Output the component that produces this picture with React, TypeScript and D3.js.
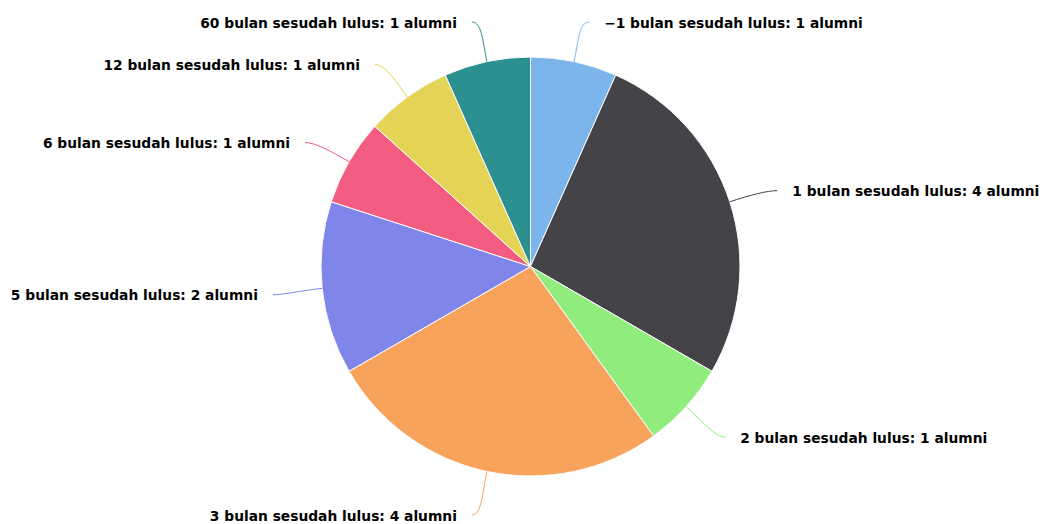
import React from "react";
import * as d3 from "d3";

const categories = [
  "−1 bulan sesudah lulus",
  "1 bulan sesudah lulus",
  "2 bulan sesudah lulus",
  "3 bulan sesudah lulus",
  "5 bulan sesudah lulus",
  "6 bulan sesudah lulus",
  "12 bulan sesudah lulus",
  "60 bulan sesudah lulus",
];
const values = [1, 4, 1, 4, 2, 1, 1, 1];
const colors = ["#7cb5ec", "#434348", "#90ed7d", "#f7a35c", "#8085e9", "#f15c80", "#e4d354", "#2b908f"];

const W = 1049;
const H = 524;
const CX = 530.5;
const CY = 266.5;
const R = 209.5;
const LABEL_RX = 259;
const LABEL_RY = 252;
const LABEL_DY = 2;

export default function App() {
  const data = categories.map((c, i) => ({ name: c, value: values[i], color: colors[i] }));
  const pie = d3.pie<any>().value((d) => d.value).sort(null);
  const arcs = pie(data);
  const arcGen = d3.arc<any>().innerRadius(0).outerRadius(R);
  const polar = (a: number, rx: number, ry: number = rx): [number, number] => [Math.sin(a) * rx, -Math.cos(a) * ry];

  return (
    <svg width={W} height={H} style={{ position: "absolute", left: 0, top: 0 }} fontFamily="DejaVu Sans">
      <rect width={W} height={H} fill="#ffffff" />
      <g transform={`translate(${CX},${CY})`}>
        {arcs.map((a, i) => (
          <path key={i} d={arcGen(a) || ""} fill={a.data.color} stroke="#ffffff" strokeWidth={1} strokeLinejoin="round" />
        ))}
        {arcs.map((a, i) => {
          const mid = (a.startAngle + a.endAngle) / 2;
          const right = mid < Math.PI;
          const side = right ? 1 : -1;
          const edge = polar(mid, R);
          const c1 = polar(mid, R + 22);
          const p = polar(mid, LABEL_RX, LABEL_RY);
          const cos2 = Math.cos(mid) * Math.cos(mid);
          const brk: [number, number] = [p[0] + side * 5 * cos2, p[1] + LABEL_DY];
          const c2: [number, number] = [brk[0] - side * 10, brk[1]];
          const path = `M${edge[0]},${edge[1]} C${c1[0]},${c1[1]} ${c2[0]},${c2[1]} ${brk[0]},${brk[1]}`;
          return (
            <g key={"l" + i}>
              <path d={path} fill="none" stroke={a.data.color} strokeWidth={1} />
              <text
                x={brk[0] + side * 15}
                y={brk[1]}
                dy="0.4em"
                textAnchor={right ? "start" : "end"}
                fontSize={13.8}
                fontWeight="bold"
                fill="#000000"
                stroke="#ffffff"
                strokeWidth={2}
                strokeLinejoin="round"
                style={{ paintOrder: "stroke" }}
              >
                {`${a.data.name}: ${a.data.value} alumni`}
              </text>
            </g>
          );
        })}
      </g>
    </svg>
  );
}
